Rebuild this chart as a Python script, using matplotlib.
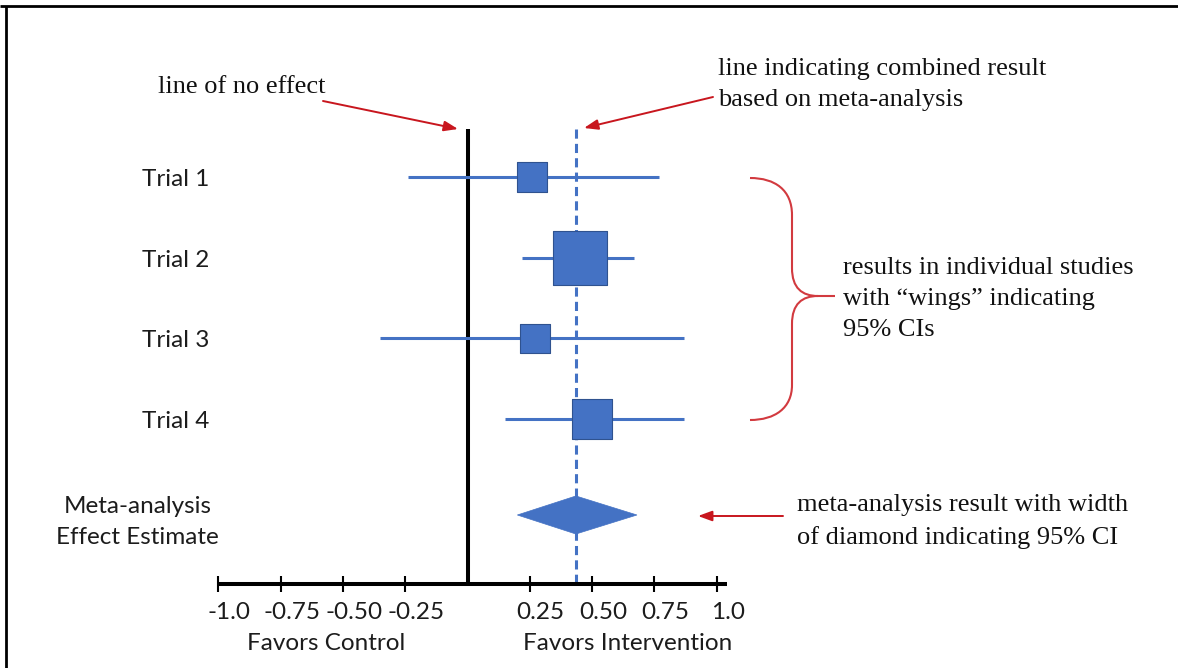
import matplotlib
matplotlib.use("Agg")
import matplotlib.pyplot as plt
import numpy as np
from matplotlib.path import Path
from matplotlib.patches import PathPatch, Polygon
from matplotlib.transforms import blended_transform_factory, ScaledTranslation

# ---------------- data ----------------
trials = ["Trial 1", "Trial 2", "Trial 3", "Trial 4"]
estimates = [0.26, 0.45, 0.27, 0.50]
ci_low = [-0.24, 0.22, -0.35, 0.15]
ci_high = [0.77, 0.67, 0.87, 0.87]
weights = [14, 46, 14, 26]          # relative study weights (square area)
meta_label = ["Meta-analysis", "Effect Estimate"]
meta_est = 0.435
meta_low = 0.20
meta_high = 0.68
tick_values = [-1.0, -0.75, -0.5, -0.25, 0.25, 0.5, 0.75, 1.0]
tick_labels = ["-1.0", "-0.75", "-0.50", "-0.25", "0.25", "0.50", "0.75", "1.0"]
side_labels = ["Favors Control", "Favors Intervention"]

# ---------------- style ----------------
BLUE = "#4472C4"
EDGE = "#2F528F"
RED = "#C8161E"
BRACE = "#D23A3F"
SANS = "Lato"
SERIF = "Liberation Serif"
W, H = 1178, 668

fig = plt.figure(figsize=(W / 100, H / 100), dpi=100)
fig.patch.set_facecolor("white")

# main forest-plot axes
ax = fig.add_axes([200 / W, 1 - 640 / H, 560 / W, 540 / H])
ax.set_xlim(-1.0734, 1.1737)
ax.set_ylim(6.741, 0.041)
ax.patch.set_alpha(0)
for s in ["top", "right", "left"]:
    ax.spines[s].set_visible(False)
axis_y = 6.05
ax.spines["bottom"].set_position(("data", axis_y))
ax.spines["bottom"].set_bounds(-1.005, 1.04)
ax.spines["bottom"].set_linewidth(2.9)
ax.spines["bottom"].set_capstyle("butt")
ax.set_yticks([])
ax.set_xticks(tick_values, tick_labels)
ax.tick_params(axis="x", direction="inout", length=12, width=1.5, pad=7,
               labelsize=17.5, labelcolor="#1c1c1c", color="black")
for lbl in ax.get_xticklabels():
    lbl.set_fontfamily(SANS)
    lbl.set_transform(lbl.get_transform() + ScaledTranslation(0.11, 0, fig.dpi_scale_trans))

rows = np.arange(1, len(trials) + 1)
meta_y = 5.19
top_y = 0.40

# line of no effect and combined-result line
ax.plot([0, 0], [top_y, axis_y], color="black", lw=2.9, solid_capstyle="butt", zorder=2)
ax.plot([meta_est, meta_est], [top_y, axis_y], color=BLUE, lw=2.2,
        linestyle=(0, (3, 1.7)), zorder=1)

# CIs and squares
ax.hlines(rows, ci_low, ci_high, color=BLUE, lw=2.2, zorder=3)
side_px = np.sqrt(weights) * 7.96
ax.scatter(estimates, rows, s=(side_px * 0.72) ** 2, marker="s", color=BLUE,
           edgecolor=EDGE, linewidth=0.8, zorder=4)

# diamond
h = 0.236
ax.add_patch(Polygon([(meta_low, meta_y), (meta_est, meta_y - h),
                      (meta_high, meta_y), (meta_est, meta_y + h)],
                     closed=True, facecolor=BLUE, edgecolor=BLUE, lw=0.5, zorder=4))

# overlay in pixel coordinates for annotations
ov = fig.add_axes([0, 0, 1, 1], zorder=5)
ov.set_xlim(0, W)
ov.set_ylim(H, 0)
ov.axis("off")
ov.patch.set_alpha(0)

# frame lines (top and left)
ov.plot([0, W], [5.5, 5.5], color="black", lw=2.0, solid_capstyle="butt")
ov.plot([5.5, 5.5], [5.5, H], color="black", lw=2.0, solid_capstyle="butt")

# row labels
blend = blended_transform_factory(ov.transData, ax.transData)
for r, t in zip(rows, trials):
    ov.text(176, r + 0.11, t, transform=blend, ha="center", va="baseline",
            family=SANS, size=17.5, color="#1c1c1c")
ov.text(137.5, 513, meta_label[0], ha="center", va="baseline", family=SANS, size=17.5, color="#1c1c1c")
ov.text(137.5, 544, meta_label[1], ha="center", va="baseline", family=SANS, size=17.5, color="#1c1c1c")

ov.text(326, 650, side_labels[0], ha="center", va="baseline", family=SANS, size=17.5, color="#1c1c1c")
ov.text(628, 650, side_labels[1], ha="center", va="baseline", family=SANS, size=17.5, color="#1c1c1c")

# serif annotations
def stxt(x, y, s):
    ov.text(x, y, s, ha="left", va="baseline", family=SERIF, size=19, color="#111111")

stxt(158, 92.7, "line of no effect")
stxt(718, 75, "line indicating combined result")
stxt(718, 106, "based on meta-analysis")
stxt(843, 274, "results in individual studies")
stxt(843, 305, "with \u201cwings\u201d indicating")
stxt(843, 336, "95% CIs")
stxt(797, 511, "meta-analysis result with width")
stxt(797, 544, "of diamond indicating 95% CI")

# arrows
aprops = dict(arrowstyle="-|>,head_length=0.6,head_width=0.22", color=RED, lw=1.4,
              shrinkA=0, shrinkB=0, mutation_scale=14)
ov.annotate("", xy=(458, 129), xytext=(323, 101), arrowprops=aprops)
ov.annotate("", xy=(584, 128), xytext=(713, 97), arrowprops=aprops)
ov.annotate("", xy=(698, 516), xytext=(783, 516), arrowprops=aprops)

# curly brace
verts = [(750, 178), (775, 178), (792, 190), (792, 215),
         (792, 268),
         (792, 288), (802, 296), (818, 296),
         (835, 296),
         (818, 296), (802, 296), (792, 304), (792, 324),
         (792, 385),
         (792, 408), (775, 420), (750, 420)]
codes = [Path.MOVETO, Path.CURVE4, Path.CURVE4, Path.CURVE4,
         Path.LINETO,
         Path.CURVE4, Path.CURVE4, Path.CURVE4,
         Path.LINETO,
         Path.MOVETO, Path.CURVE4, Path.CURVE4, Path.CURVE4,
         Path.LINETO,
         Path.CURVE4, Path.CURVE4, Path.CURVE4]
ov.add_patch(PathPatch(Path(verts, codes), facecolor="none", edgecolor=BRACE, lw=1.5))

fig.savefig("out.png", dpi=100)
